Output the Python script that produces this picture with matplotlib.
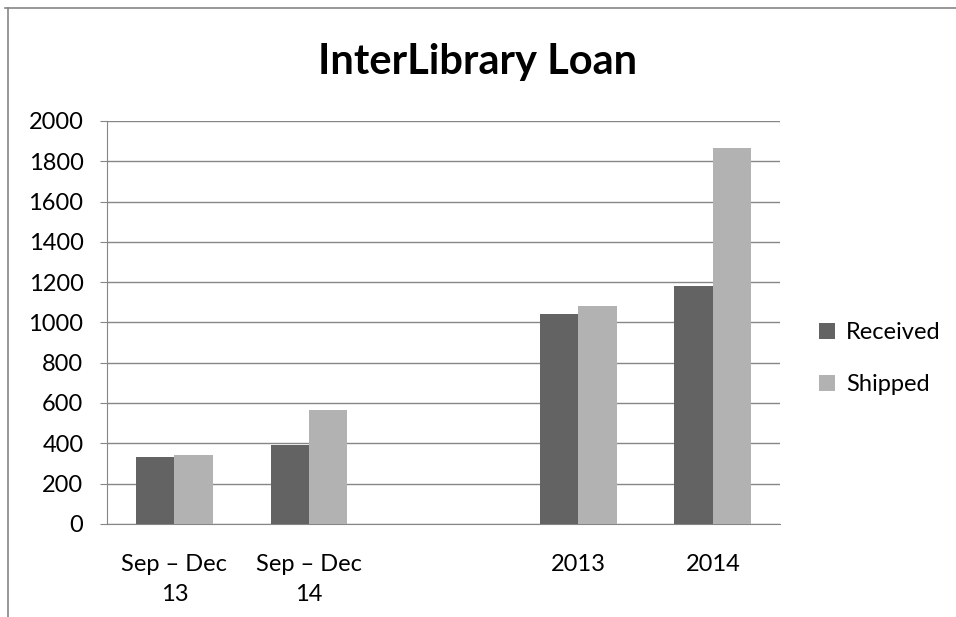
import numpy as np
import matplotlib
matplotlib.use('Agg')
import matplotlib.pyplot as plt
from matplotlib.lines import Line2D

plt.rcParams['font.family'] = ['Lato', 'DejaVu Sans']

# chart data
categories = ['Sep – Dec\n13', 'Sep – Dec\n14', '', '2013', '2014']
received = [330, 390, np.nan, 1040, 1180]
shipped = [342, 566, np.nan, 1082, 1866]
yticks = [0, 200, 400, 600, 800, 1000, 1200, 1400, 1600, 1800, 2000]

fig = plt.figure(figsize=(9.56, 6.17), dpi=100)
ax = fig.add_axes([0.112, 0.151, 0.704, 0.653])

x = np.arange(len(categories))
w = 1 / 3.5
ax.bar(x - w / 2, received, w, color='#636363', label='Received', zorder=3)
ax.bar(x + w / 2, shipped, w, color='#b2b2b2', label='Shipped', zorder=3)

ax.set_xlim(-0.5, len(categories) - 0.5)
ax.set_ylim(0, 2000)
ax.set_yticks(yticks)
ax.set_yticklabels([str(t) for t in yticks], fontsize=17)
ax.set_xticks(x)
ax.set_xticklabels(categories, fontsize=17, linespacing=1.5)
ax.tick_params(axis='x', length=0, pad=22)
ax.tick_params(axis='y', length=5, color='#868686', pad=12)
ax.grid(axis='y', color='#868686', linewidth=1, zorder=0)
for s in ['top', 'right']:
    ax.spines[s].set_visible(False)
for s in ['left', 'bottom']:
    ax.spines[s].set_color('#868686')

fig.text(0.5, 0.9, 'InterLibrary Loan', ha='center', va='center',
         fontsize=30, fontweight='bold')

ax.legend(loc='center left', bbox_to_anchor=(1.03, 0.41), frameon=False,
          fontsize=17, handlelength=0.65, handleheight=0.65,
          labelspacing=1.3, handletextpad=0.5, borderaxespad=0.4)

# outer chart border (top and left only visible)
fig.add_artist(Line2D([0.005, 1.0], [0.987, 0.987], color='#868686', lw=1.2,
                      transform=fig.transFigure))
fig.add_artist(Line2D([0.008, 0.008], [0.0, 0.987], color='#868686', lw=1.2,
                      transform=fig.transFigure))

fig.savefig('out.png', dpi=100)
